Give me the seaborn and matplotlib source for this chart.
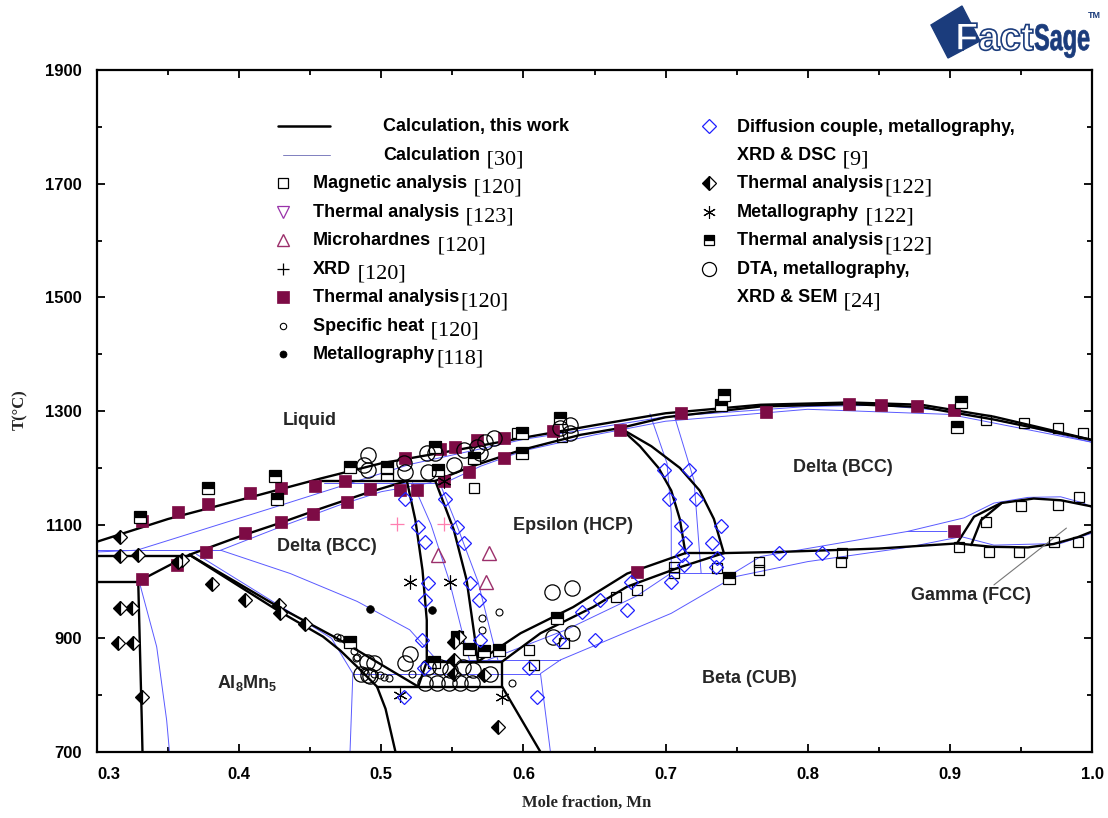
import matplotlib
matplotlib.use("Agg")
import matplotlib.pyplot as plt
import seaborn as sns
from matplotlib.lines import Line2D
from matplotlib.patches import Polygon, PathPatch
from matplotlib.textpath import TextPath
from matplotlib.font_manager import FontProperties
from matplotlib.transforms import Affine2D, IdentityTransform
from matplotlib.ticker import MultipleLocator

# ---------------- phase boundaries, this work (black) ----------------
liquidus_x = [0.30, 0.35, 0.40, 0.457, 0.50, 0.55, 0.60, 0.65, 0.70, 0.767, 0.83, 0.88, 0.931, 0.96, 1.0]
liquidus_T = [1070, 1110, 1143, 1181, 1208, 1230, 1253, 1275, 1296, 1311, 1315, 1311, 1290, 1273, 1249]
dsol_left_x = [0.329, 0.365, 0.40, 0.43, 0.457, 0.49, 0.518]
dsol_left_T = [1000, 1047, 1079, 1104, 1128, 1156, 1177]
eps_sol_x = [0.538, 0.563, 0.598, 0.640, 0.668]
eps_sol_T = [1177, 1202, 1231, 1258, 1270]
dsol_right_x = [0.668, 0.70, 0.767, 0.83, 0.88, 0.931, 0.96, 1.0]
dsol_right_T = [1270, 1289, 1308, 1312, 1307, 1285, 1270, 1249]
h1045_x = [0.30, 0.365]; h1045_T = [1045, 1045]
h1000_x = [0.30, 0.329]; h1000_T = [1000, 1000]
h1177_x = [0.457, 0.538]; h1177_T = [1177, 1177]
h859_x = [0.531, 0.585]; h859_T = [859, 859]
h815_x = [0.497, 0.585, 0.585]; h815_T = [815, 815, 859]
h1050_x = [0.714, 0.741]; h1050_T = [1050, 1050]
eps_left_x = [0.518, 0.524, 0.529, 0.532, 0.532, 0.526]
eps_left_T = [1177, 1108, 1020, 932, 859, 815]
eps_right_x = [0.538, 0.551, 0.560, 0.566, 0.568]
eps_right_T = [1177, 1091, 1003, 897, 859]
al8_up_x = [0.365, 0.4265, 0.471, 0.526]
al8_up_T = [1047, 957, 897, 815]
al8_low_x = [0.365, 0.4265, 0.459, 0.471, 0.483, 0.497, 0.503, 0.510]
al8_low_T = [1047, 950, 903, 879, 850, 815, 776, 700]
al8_left_x = [0.329, 0.3315, 0.332]
al8_left_T = [1000, 756, 700]
low_right_x = [0.585, 0.612]
low_right_T = [815, 700]
eb_up_x = [0.568, 0.598, 0.635, 0.673, 0.714]
eb_up_T = [859, 909, 955, 1014, 1050]
eb_low_x = [0.585, 0.612, 0.649, 0.673, 0.71, 0.741]
eb_low_T = [859, 909, 955, 991, 1025, 1050]
etop_left_x = [0.668, 0.682, 0.695, 0.704, 0.710, 0.714]
etop_left_T = [1270, 1238, 1200, 1160, 1110, 1050]
etop_right_x = [0.668, 0.690, 0.710, 0.724, 0.734, 0.741]
etop_right_T = [1270, 1238, 1200, 1160, 1110, 1050]
delta_beta_x = [0.741, 0.78, 0.85, 0.905, 0.93, 0.955, 0.973, 0.99, 1.0]
delta_beta_T = [1050, 1052, 1058, 1067, 1061, 1060, 1066, 1078, 1088]
gamma_up_x = [0.905, 0.917, 0.936, 0.959, 0.978, 1.0]
gamma_up_T = [1067, 1114, 1138, 1146, 1143, 1132]
gamma_in_x = [0.915, 0.922, 0.936]
gamma_in_T = [1064, 1108, 1137]

# ---------------- phase boundaries, calculation [30] (blue) ----------------
b_liq_x = [0.30, 0.328, 0.4265, 0.52, 0.60, 0.70, 0.80, 0.85, 0.90, 0.95, 1.0]
b_liq_T = [1052, 1055, 1132, 1206, 1250, 1290, 1308, 1310, 1300, 1275, 1245]
b_h1055_x = [0.30, 0.387]; b_h1055_T = [1055, 1055]
b_sol_l_x = [0.387, 0.43, 0.47, 0.50, 0.535]
b_sol_l_T = [1055, 1097, 1134, 1158, 1174]
b_h1174_x = [0.46, 0.545]; b_h1174_T = [1174, 1174]
b_sol_r_x = [0.545, 0.57, 0.60, 0.65, 0.70, 0.80, 0.90, 1.0]
b_sol_r_T = [1174, 1203, 1230, 1258, 1282, 1303, 1294, 1245]
b_al8d_x = [0.387, 0.436, 0.483, 0.52, 0.539]
b_al8d_T = [1055, 1014, 965, 915, 862]
b_al8_x = [0.37, 0.43, 0.465, 0.48, 0.478]
b_al8_T = [1048, 955, 900, 838, 700]
b_al8l_x = [0.330, 0.342, 0.349, 0.351]
b_al8l_T = [997, 885, 756, 700]
b_h838_x = [0.48, 0.612]; b_h838_T = [838, 838]
b_vr_x = [0.619, 0.612, 0.626]; b_vr_T = [700, 838, 862]
b_h862_x = [0.539, 0.626]; b_h862_T = [862, 862]
b_eps_l_x = [0.522, 0.535, 0.548, 0.558, 0.562]
b_eps_l_T = [1174, 1100, 1000, 900, 862]
b_eps_r_x = [0.541, 0.553, 0.568, 0.578, 0.582]
b_eps_r_T = [1174, 1100, 1000, 900, 862]
b_beta_low_x = [0.626, 0.704, 0.748, 0.80, 0.87, 0.908, 0.931, 0.978, 1.0]
b_beta_low_T = [862, 944, 1008, 1035, 1060, 1079, 1064, 1067, 1085]
b_eb_x = [0.575, 0.63, 0.68, 0.704]
b_eb_T = [862, 915, 975, 1015]
b_h1015_x = [0.704, 0.748]; b_h1015_T = [1015, 1015]
b_db_up_x = [0.748, 0.767, 0.87, 0.898]
b_db_up_T = [1015, 1044, 1088, 1088]
b_gam_x = [0.87, 0.91, 0.931, 0.955, 0.978, 0.994, 1.0]
b_gam_T = [1088, 1112, 1138, 1148, 1149, 1138, 1130]
b_etop_l_x = [0.689, 0.701, 0.704, 0.704]
b_etop_l_T = [1295, 1208, 1120, 1015]
b_etop_r_x = [0.706, 0.72, 0.725]
b_etop_r_T = [1293, 1178, 1015]

# ---------------- experimental points ----------------
mag_x = [0.9254, 0.9523, 0.9758, 0.9934, 0.9066, 0.9277, 0.9488, 0.9735, 0.9899, 0.9254, 0.9500, 0.9758,
         0.9911, 0.8244, 0.8232, 0.7058, 0.7058, 0.7364, 0.7657, 0.7657, 0.6800, 0.6648, 0.6284, 0.6037,
         0.6073, 0.5650, 0.5955, 0.6270]
mag_T = [1284, 1279, 1270, 1261, 1061, 1052, 1052, 1070, 1070, 1105, 1132, 1135,
         1149, 1050, 1035, 1015, 1026, 1023, 1035, 1020, 985, 973, 891, 879,
         853, 1164, 1261, 1255]
ta120_x = [0.3315, 0.3573, 0.3784, 0.4077, 0.4294, 0.4535, 0.3315, 0.3565, 0.3768, 0.4042, 0.4294, 0.4519,
           0.4746, 0.4760, 0.4923, 0.5134, 0.5250, 0.5170, 0.5415, 0.5520, 0.5670, 0.5860, 0.6210, 0.5615,
           0.5860, 0.5439, 0.6680, 0.7106, 0.6800, 0.7704, 0.8291, 0.8514, 0.8772, 0.9030, 0.9030]
ta120_T = [1107, 1122, 1136, 1156, 1164, 1168, 1005, 1029, 1052, 1085, 1105, 1118,
           1176, 1140, 1162, 1161, 1161, 1217, 1234, 1237, 1249, 1252, 1265, 1193,
           1217, 1176, 1267, 1296, 1017, 1299, 1312, 1311, 1308, 1302, 1088]
ta122sq_x = [0.330, 0.3784, 0.4254, 0.4265, 0.478, 0.504, 0.504, 0.538, 0.540, 0.565, 0.599, 0.599, 0.626,
             0.739, 0.741, 0.7446, 0.908, 0.905, 0.478, 0.5533, 0.5615, 0.572, 0.5826, 0.537, 0.6237]
ta122sq_T = [1114, 1164, 1186, 1146, 1202, 1202, 1190, 1237, 1196, 1217, 1261, 1226, 1287,
             1311, 1328, 1006, 1316, 1272, 894, 903, 882, 877, 879, 859, 935]
ta122di_x = [0.3162, 0.3162, 0.329, 0.3162, 0.3244, 0.315, 0.3256, 0.3315, 0.3573, 0.3596, 0.3807,
             0.4042, 0.4277, 0.429, 0.4465, 0.5824, 0.551, 0.551, 0.551, 0.572, 0.5545]
ta122di_T = [1079, 1045, 1047, 953, 953, 892, 892, 796, 1035, 1038, 996,
             967, 958, 944, 926, 744, 894, 862, 838, 835, 903]
met122_x = [0.5204, 0.5486, 0.5439, 0.5134, 0.585]
met122_T = [1000, 1000, 1176, 800, 797]
met118_x = [0.536, 0.492]
met118_T = [950, 951]
xrd_x = [0.511, 0.544]
xrd_T = [1102, 1102]
micro_x = [0.540, 0.5756, 0.574]
micro_T = [1047, 1051, 1000]
cp_x = [0.571, 0.5826, 0.571, 0.592, 0.4688, 0.4805, 0.482, 0.4876, 0.4946, 0.4993, 0.5051, 0.5216,
        0.471, 0.483, 0.5017]
cp_T = [935, 947, 915, 821, 903, 877, 866, 842, 838, 835, 830, 838, 900, 868, 832]
dta_x = [0.491, 0.491, 0.5169, 0.533, 0.538, 0.532, 0.551, 0.558, 0.567, 0.573, 0.579, 0.626, 0.633,
         0.633, 0.4876, 0.5158, 0.5697,
         0.490, 0.5169, 0.531, 0.5392, 0.5474, 0.5556, 0.5638, 0.533, 0.541, 0.548, 0.5575, 0.5645,
         0.5204, 0.4855, 0.4904, 0.5768, 0.4946, 0.4923,
         0.620, 0.634, 0.621, 0.634]
dta_T = [1223, 1196, 1193, 1193, 1226, 1226, 1205, 1231, 1237, 1246, 1252, 1270, 1275,
         1261, 1205, 1208, 1226,
         859, 856, 821, 821, 821, 821, 821, 850, 850, 844, 850, 844,
         873, 838, 835, 838, 856, 833,
         982, 988, 903, 909]
diff_x = [0.5169, 0.545, 0.526, 0.553, 0.531, 0.558, 0.533, 0.5627, 0.531, 0.5685, 0.5286, 0.5697,
          0.5298, 0.6037, 0.516, 0.6096, 0.6413, 0.6542, 0.6507, 0.6249, 0.6988, 0.7164, 0.7023,
          0.7211, 0.7106, 0.7387, 0.714, 0.7329, 0.7117, 0.7363, 0.7129, 0.7353, 0.7035, 0.6754,
          0.673, 0.7798, 0.8103]
diff_T = [1146, 1146, 1096, 1096, 1070, 1067, 997, 997, 967, 967, 897, 897,
          847, 847, 797, 797, 947, 967, 897, 897, 1197, 1197, 1146,
          1146, 1098, 1098, 1067, 1067, 1047, 1041, 1029, 1026, 1000, 1000,
          950, 1050, 1050]

gamma_leader_x = [0.931, 0.982]
gamma_leader_T = [994, 1094]

x_ticks = [0.3, 0.4, 0.5, 0.6, 0.7, 0.8, 0.9, 1.0]
x_tick_labels = ["0.3", "0.4", "0.5", "0.6", "0.7", "0.8", "0.9", "1.0"]
y_ticks = [700, 900, 1100, 1300, 1500, 1700, 1900]
y_tick_labels = ["700", "900", "1100", "1300", "1500", "1700", "1900"]

region_labels = ["Liquid", "Delta (BCC)", "Epsilon (HCP)", "Delta (BCC)",
                 r"$\mathbf{Al_8Mn_5}$", "Beta (CUB)", "Gamma (FCC)"]
region_x = [0.450, 0.462, 0.635, 0.825, 0.4056, 0.759, 0.915]
region_T = [1284, 1061, 1099, 1201, 822, 829, 975]

black_curves = [(liquidus_x, liquidus_T), (dsol_left_x, dsol_left_T), (eps_sol_x, eps_sol_T),
                (dsol_right_x, dsol_right_T), (h1045_x, h1045_T), (h1000_x, h1000_T),
                (h1177_x, h1177_T), (h859_x, h859_T), (h815_x, h815_T), (h1050_x, h1050_T),
                (eps_left_x, eps_left_T), (eps_right_x, eps_right_T), (al8_up_x, al8_up_T),
                (al8_low_x, al8_low_T), (al8_left_x, al8_left_T), (low_right_x, low_right_T),
                (eb_up_x, eb_up_T), (eb_low_x, eb_low_T), (etop_left_x, etop_left_T),
                (etop_right_x, etop_right_T), (delta_beta_x, delta_beta_T),
                (gamma_up_x, gamma_up_T), (gamma_in_x, gamma_in_T)]
blue_curves = [(b_liq_x, b_liq_T), (b_h1055_x, b_h1055_T), (b_sol_l_x, b_sol_l_T),
               (b_h1174_x, b_h1174_T), (b_sol_r_x, b_sol_r_T), (b_al8d_x, b_al8d_T),
               (b_al8_x, b_al8_T), (b_al8l_x, b_al8l_T), (b_h838_x, b_h838_T), (b_vr_x, b_vr_T),
               (b_h862_x, b_h862_T), (b_eps_l_x, b_eps_l_T), (b_eps_r_x, b_eps_r_T),
               (b_beta_low_x, b_beta_low_T), (b_eb_x, b_eb_T), (b_h1015_x, b_h1015_T),
               (b_db_up_x, b_db_up_T), (b_gam_x, b_gam_T), (b_etop_l_x, b_etop_l_T),
               (b_etop_r_x, b_etop_r_T)]

# ---------------- styles ----------------
MAROON = "#7d0b45"
BLUE_LINE = "#5a5aff"
styles = {
    "mag": dict(marker="s", ms=7.5, mfc="none", mec="black", mew=0.9),
    "dtri": dict(marker="v", ms=9, mfc="none", mec="#9933aa", mew=0.9),
    "utri": dict(marker="^", ms=9.5, mfc="none", mec="#9b2f6b", mew=1.0),
    "plus": dict(marker="+", ms=10, mec="#ff7fb0", mew=0.9),
    "msq": dict(marker="s", ms=9, mfc=MAROON, mec=MAROON, mew=0.5),
    "scirc": dict(marker="o", ms=5, mfc="none", mec="black", mew=0.8),
    "fcirc": dict(marker="o", ms=5.5, mfc="black", mec="black", mew=0.5),
    "bdia": dict(marker="D", ms=7.5, mfc="none", mec="#1f1fff", mew=0.9),
    "hdia": dict(marker="D", ms=7.5, mfc="black", markerfacecoloralt="white", fillstyle="left",
                 mec="black", mew=0.9),
    "ast": dict(marker=(6, 2, 0), ms=10, mec="black", mew=0.8),
    "hsq": dict(marker="s", ms=8, mfc="black", markerfacecoloralt="white", fillstyle="top",
                mec="black", mew=0.9),
    "lcirc": dict(marker="o", ms=11, mfc="none", mec="black", mew=0.9),
}

sns.set_theme(style="ticks")
plt.rcParams["font.family"] = ["Liberation Sans", "DejaVu Sans"]
plt.rcParams.update({"mathtext.fontset": "custom", "mathtext.rm": "Liberation Sans",
                     "mathtext.bf": "Liberation Sans:bold", "mathtext.it": "Liberation Sans:italic"})

W, H = 1108, 818
fig = plt.figure(figsize=(W / 100, H / 100), dpi=100)
fig.patch.set_facecolor("white")
ax = fig.add_axes([97 / W, 1 - 752 / H, 995 / W, 682 / H])
ax.set_facecolor("white")

for xs, ts in blue_curves:
    sns.lineplot(x=xs, y=ts, sort=False, estimator=None, color=BLUE_LINE, linewidth=0.7,
                 ax=ax, legend=False, zorder=2)
for xs, ts in black_curves:
    sns.lineplot(x=xs, y=ts, sort=False, estimator=None, color="black", linewidth=1.7,
                 ax=ax, legend=False, zorder=3)
ax.plot(gamma_leader_x, gamma_leader_T, color="#777777", lw=0.8, zorder=3)

series = [("mag", mag_x, mag_T), ("msq", ta120_x, ta120_T), ("hsq", ta122sq_x, ta122sq_T),
          ("hdia", ta122di_x, ta122di_T), ("ast", met122_x, met122_T), ("fcirc", met118_x, met118_T),
          ("plus", xrd_x, xrd_T), ("utri", micro_x, micro_T), ("scirc", cp_x, cp_T),
          ("lcirc", dta_x, dta_T), ("bdia", diff_x, diff_T)]
for key, xs, ts in series:
    ax.plot(xs, ts, ls="none", zorder=4, **styles[key])

for lab, x, t in zip(region_labels, region_x, region_T):
    ax.text(x, t, lab, ha="center", va="center", fontsize=13, fontweight="bold", zorder=5)

ax.set_xlim(0.3, 1.0)
ax.set_ylim(700, 1900)
ax.set_xticks(x_ticks)
ax.set_xticklabels(x_tick_labels)
ax.set_yticks(y_ticks)
ax.set_yticklabels(y_tick_labels)
ax.xaxis.set_minor_locator(MultipleLocator(0.05))
ax.yaxis.set_minor_locator(MultipleLocator(100))
ax.tick_params(which="both", direction="in", top=True, right=True, width=1.3, color="black")
ax.tick_params(which="major", length=6, labelsize=12, pad=11, labelcolor="black")
ax.tick_params(which="minor", length=3.5)
for lab in ax.get_xticklabels() + ax.get_yticklabels():
    lab.set_fontweight("bold")
ax.get_xticklabels()[0].set_ha("left")
for s in ax.spines.values():
    s.set_linewidth(1.6)
    s.set_color("black")
ax.grid(False)

ax.set_xlabel("Mole fraction, Mn", family="Liberation Serif", fontweight="bold", fontsize=12)
ax.xaxis.set_label_coords((587 - 97) / 995, -(803 - 752) / 682)
ax.xaxis.label.set_va("center")
ax.set_ylabel("T(°C)", family="Liberation Serif", fontweight="bold", fontsize=12)
ax.yaxis.set_label_coords(-(97 - 20) / 995, (752 - 410) / 682)
ax.yaxis.label.set_va("center")

# ---------------- legend (figure pixel layout) ----------------
legend_left = [("thick", "Calculation, this work", ""), ("thin", "Calculation", " [30]"),
               ("mag", "Magnetic analysis", " [120]"), ("dtri", "Thermal analysis", " [123]"),
               ("utri", "Microhardnes", " [120]"), ("plus", "XRD", " [120]"),
               ("msq", "Thermal analysis", "[120]"), ("scirc", "Specific heat", " [120]"),
               ("fcirc", "Metallography", "[118]")]
legend_right = [("bdia", "Diffusion couple, metallography,", ""), (None, "XRD & DSC", " [9]"),
                ("hdia", "Thermal analysis", "[122]"), ("ast", "Metallography", " [122]"),
                ("hsq", "Thermal analysis", "[122]"), ("lcirc", "DTA, metallography,", ""),
                (None, "XRD & SEM", " [24]")]
rows_y = [126, 154.5, 183, 211.5, 240, 268.5, 297, 325.5, 354]

renderer = fig.canvas.get_renderer()
ident = IdentityTransform()


def legend_entry(key, bold, ref, mx, tx, y):
    if key == "thick":
        fig.add_artist(Line2D([278, 330], [H - y, H - y], color="black", lw=1.8, transform=ident))
    elif key == "thin":
        fig.add_artist(Line2D([283, 330], [H - y, H - y], color="#7f7fbf", lw=0.7, transform=ident))
    elif key is not None:
        st = dict(styles[key])
        st["ms"] = st["ms"] * 0.92
        if key == "plus":
            st["mec"] = "black"
        fig.add_artist(Line2D([mx], [H - y], ls="none", transform=ident, **st))
    t = fig.text(tx / W, 1 - (y + 5.5) / H, bold, fontsize=13, fontweight="bold",
                 ha="left", va="baseline", color="black")
    if ref:
        bb = t.get_window_extent(renderer=renderer)
        fig.text((bb.x1 + 1) / W, 1 - (y + 10) / H, ref, family="Liberation Serif",
                 fontsize=16, ha="left", va="baseline", color="black")


for (key, bold, ref), y in zip(legend_left, rows_y):
    tx = 383 if key in ("thick", "thin") else 313
    legend_entry(key, bold, ref, 283, tx, y)
for (key, bold, ref), y in zip(legend_right, rows_y):
    legend_entry(key, bold, ref, 709, 737, y)

# ---------------- FactSage logo ----------------
NAVY = "#1b3c7c"
fig.add_artist(Polygon([(931, H - 25), (962, H - 6), (980, H - 41), (948, H - 58)],
                       closed=True, facecolor=NAVY, edgecolor=NAVY, transform=ident))
fp = FontProperties(family="Liberation Sans", weight="bold")
tp1 = TextPath((0, 0), "Fact", size=39, prop=fp)
tp2 = TextPath((0, 0), "Sage", size=39, prop=fp)
w1 = tp1.get_extents().x1
fig.add_artist(PathPatch(tp1, facecolor="white", edgecolor=NAVY, lw=1.2,
                         transform=Affine2D().scale(0.98, 1.0).translate(955, H - 50)))
fig.add_artist(PathPatch(tp2, facecolor=NAVY, edgecolor=NAVY, lw=0.5,
                         transform=Affine2D().scale(0.60, 0.95).translate(955 + w1 * 0.98 + 1, H - 50)))
fig.text(1088 / W, 1 - 16 / H, "TM", fontsize=6.5, color=NAVY, fontweight="bold", va="center")

fig.savefig("out.png", dpi=100, facecolor="white")
